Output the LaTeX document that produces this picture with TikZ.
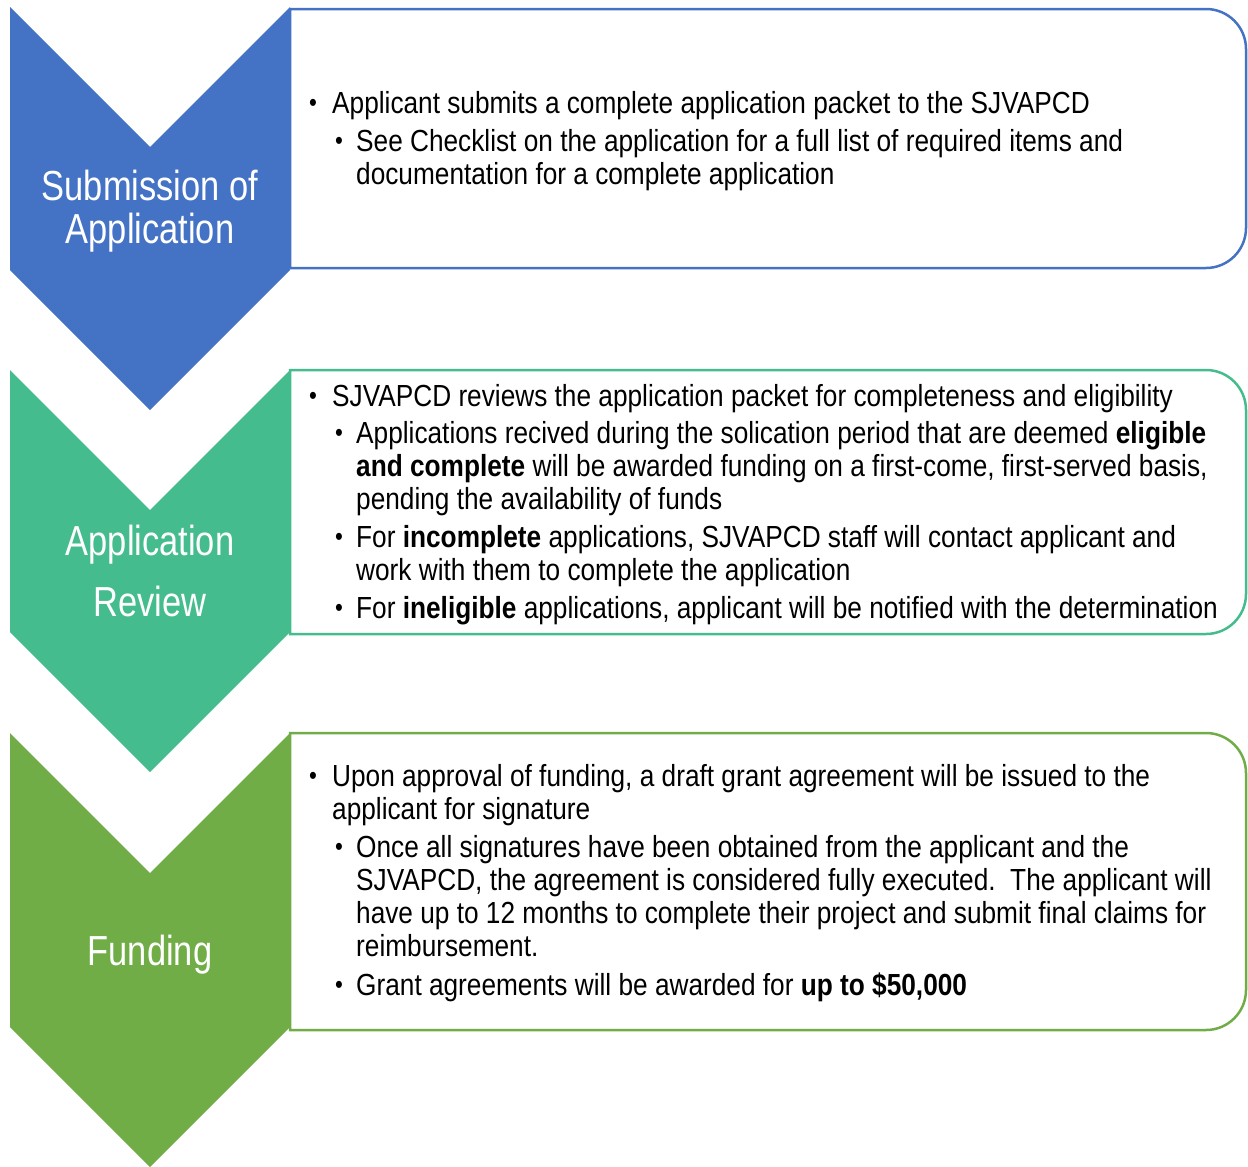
\documentclass[tikz,border=0pt]{standalone}
\usepackage{fontspec}
\setmainfont{Liberation Sans}[FakeStretch=0.82]
\newfontfamily\bodyfont{Liberation Sans}[FakeStretch=0.86]
\definecolor{cblue}{HTML}{4472C4}
\definecolor{cteal}{HTML}{45BC8D}
\definecolor{cgreen}{HTML}{70AD47}
\tikzset{
  boxline/.style={line width=2.5pt, fill=white},
  body/.style={anchor=base west, inner sep=0pt, text=black, font=\bodyfont\fontsize{30.5}{33}\selectfont},
  bul/.style={anchor=base, inner sep=0pt, text=black, font=\bodyfont\fontsize{26}{26}\selectfont},
  lbl/.style={anchor=base, inner sep=0pt, text=white, font=\fontsize{42}{43}\selectfont},
}
\newcommand{\bodyline}[4]{\node[body] (#1) at (#2,#3) {#4};}
\newcommand{\bulletat}[3]{\node[bul] (#1) at (#2,#3) {\raisebox{1.5pt}{\textbullet}};}
\begin{document}
\begin{tikzpicture}[x=1pt,y=-1pt]
\useasboundingbox (0,0) rectangle (1248,1167);
% boxes
\draw[boxline, draw=cblue] (290,268) -- (290,9) -- (1206,9) arc[start angle=270,end angle=360,radius=40] -- (1246,228) arc[start angle=0,end angle=90,radius=40] -- cycle;
\draw[boxline, draw=cteal] (290,634) -- (290,370) -- (1206,370) arc[start angle=270,end angle=360,radius=40] -- (1246,594) arc[start angle=0,end angle=90,radius=40] -- cycle;
\draw[boxline, draw=cgreen] (290,1030) -- (290,733) -- (1206,733) arc[start angle=270,end angle=360,radius=40] -- (1246,990) arc[start angle=0,end angle=90,radius=40] -- cycle;
% chevrons
\fill[cblue] (10,7) -- (150,147) -- (290,7) -- (290,270) -- (150,410) -- (10,270) -- cycle;
\fill[cteal] (10,370) -- (150,510) -- (290,370) -- (290,632) -- (150,772) -- (10,632) -- cycle;
\fill[cgreen] (10,733) -- (150,873) -- (290,733) -- (290,1027) -- (150,1167) -- (10,1027) -- cycle;
% chevron labels
\node[lbl] (t1a) at (150,200) {Submission of};
\node[lbl] (t1b) at (150,243) {Application};
\node[lbl] (t2a) at (150,555) {Application};
\node[lbl] (t2b) at (150,616) {Review};
\node[lbl] (t3) at (150,965) {Funding};
% box 1
\bulletat{b11}{313}{113}
\bodyline{l11}{332}{113}{Applicant submits a complete application packet to the SJVAPCD}
\bulletat{b12}{339}{151}
\bodyline{l12}{356}{151}{See Checklist on the application for a full list of required items and}
\bodyline{l13}{356}{184}{documentation for a complete application}
% box 2
\bulletat{b21}{313}{406}
\bodyline{l21}{332}{406}{SJVAPCD reviews the application packet for completeness and eligibility}
\bulletat{b22}{339}{443}
\bodyline{l22}{356}{443}{Applications recived during the solication period that are deemed \textbf{eligible}}
\bodyline{l23}{356}{476}{\textbf{and complete} will be awarded funding on a first-come, first-served basis,}
\bodyline{l24}{356}{509}{pending the availability of funds}
\bulletat{b23}{339}{547}
\bodyline{l25}{356}{547}{For \textbf{incomplete} applications, SJVAPCD staff will contact applicant and}
\bodyline{l26}{356}{580}{work with them to complete the application}
\bulletat{b24}{339}{618}
\bodyline{l27}{356}{618}{For \textbf{ineligible} applications, applicant will be notified with the determination}
% box 3
\bulletat{b31}{313}{786}
\bodyline{l31}{332}{786}{Upon approval of funding, a draft grant agreement will be issued to the}
\bodyline{l32}{332}{819}{applicant for signature}
\bulletat{b32}{339}{857}
\bodyline{l33}{356}{857}{Once all signatures have been obtained from the applicant and the}
\bodyline{l34}{356}{890}{SJVAPCD, the agreement is considered fully executed.\ \ The applicant will}
\bodyline{l35}{356}{923}{have up to 12 months to complete their project and submit final claims for}
\bodyline{l36}{356}{956}{reimbursement.}
\bulletat{b33}{339}{995}
\bodyline{l37}{356}{995}{Grant agreements will be awarded for \textbf{up to \$50,000}}
\end{tikzpicture}
\end{document}
